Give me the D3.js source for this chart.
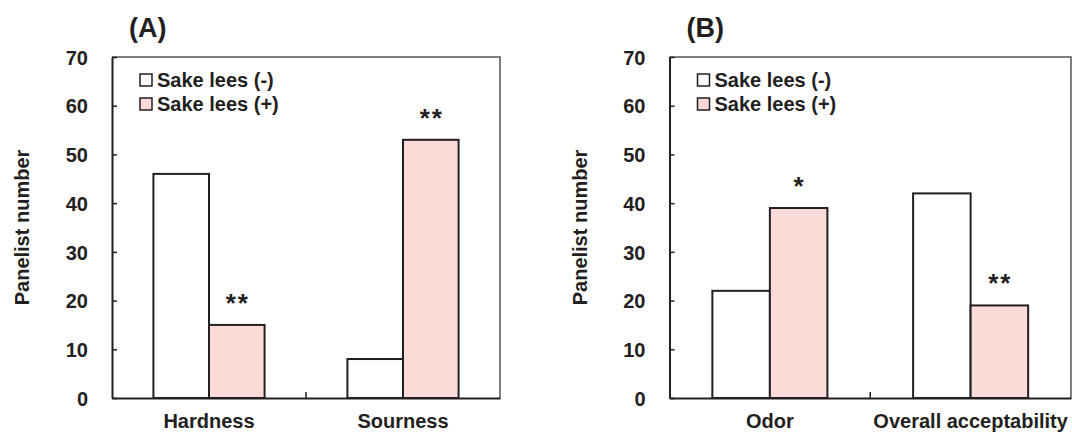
<!DOCTYPE html>
<html>
<head>
<meta charset="utf-8">
<script src="https://cdn.jsdelivr.net/npm/d3@7"></script>
<style>
  body { margin: 0; background: #fff; }
  text { font-family: "Liberation Sans", Arial, sans-serif; font-weight: bold; fill: #231f20; }
</style>
</head>
<body>
<svg id="chart" width="1072" height="435"></svg>
<script>
// Data
var seriesNames = ["Sake lees (-)", "Sake lees (+)"];
var panelLabels = ["(A)", "(B)"];
var categoriesA = ["Hardness", "Sourness"];
var withoutLeesA = [46, 8];
var withLeesA = [15, 53];
var marksA = ["**", "**"];
var categoriesB = ["Odor", "Overall acceptability"];
var withoutLeesB = [22, 42];
var withLeesB = [39, 19];
var marksB = ["*", "**"];
var yTicks = [0, 10, 20, 30, 40, 50, 60, 70];

var colors = { "Sake lees (-)": "#ffffff", "Sake lees (+)": "#fadbd8" };
var ink = "#231f20";
var fontSize = "20px";

var svg = d3.select("#chart");

var plotTop = 57, plotBottom = 398;
var panels = [
  { label: panelLabels[0], cats: categoriesA, a: withoutLeesA, b: withLeesA, marks: marksA, x0: 112, x1: 500, ylab: 29 },
  { label: panelLabels[1], cats: categoriesB, a: withoutLeesB, b: withLeesB, marks: marksB, x0: 669.5, x1: 1071, ylab: 587 }
];

var y = d3.scaleLinear().domain([0, 70]).range([plotBottom, plotTop]);

panels.forEach(function (p) {
  var g = svg.append("g");
  var x = d3.scaleBand().domain(p.cats).range([p.x0, p.x1]).padding(0);
  var xs = d3.scaleBand().domain(seriesNames).range([0, x.bandwidth()]).paddingInner(0).paddingOuter(0.745);

  // frame: top and right lighter
  g.append("path")
    .attr("d", "M" + p.x0 + "," + plotTop + "H" + p.x1 + "V" + plotBottom)
    .attr("fill", "none").attr("stroke", "#555").attr("stroke-width", 1.5);

  // bars
  var flat = [];
  p.cats.forEach(function (c, i) {
    flat.push({ cat: c, s: seriesNames[0], v: p.a[i], m: "" });
    flat.push({ cat: c, s: seriesNames[1], v: p.b[i], m: p.marks[i] });
  });
  g.selectAll("rect.bar").data(flat).enter().append("rect")
    .attr("class", "bar")
    .attr("x", function (d) { return x(d.cat) + xs(d.s); })
    .attr("y", function (d) { return y(d.v); })
    .attr("width", xs.bandwidth())
    .attr("height", function (d) { return y(0) - y(d.v); })
    .attr("fill", function (d) { return colors[d.s]; })
    .attr("stroke", ink).attr("stroke-width", 2);

  // significance stars
  g.selectAll("text.star").data(flat.filter(function (d) { return d.m; })).enter().append("text")
    .attr("class", "star")
    .attr("x", function (d) { return x(d.cat) + xs(d.s) + xs.bandwidth() / 2 + 1; })
    .attr("y", function (d) { return y(d.v) - 13; })
    .attr("text-anchor", "middle")
    .style("font-size", "26px")
    .style("letter-spacing", "2px")
    .text(function (d) { return d.m; });

  // y axis
  var yAxis = d3.axisLeft(y).tickValues(yTicks).tickSizeInner(-5).tickSizeOuter(0).tickPadding(24);
  var ya = g.append("g").attr("transform", "translate(" + p.x0 + ",0)").call(yAxis);
  ya.select(".domain").attr("stroke", ink).attr("stroke-width", 2);
  ya.selectAll(".tick line").attr("stroke", ink).attr("stroke-width", 1.5);
  ya.selectAll(".tick text").attr("fill", ink).style("font-size", fontSize).style("font-family", "Liberation Sans, Arial, sans-serif").attr("dy", "0.36em");

  // x axis
  var xa = g.append("g").attr("transform", "translate(0," + plotBottom + ")")
    .call(d3.axisBottom(x).tickSize(0).tickPadding(16));
  xa.select(".domain").attr("stroke", ink).attr("stroke-width", 2);
  xa.selectAll(".tick text").attr("fill", ink).style("font-size", fontSize).style("font-family", "Liberation Sans, Arial, sans-serif");
  // separator tick between categories
  g.append("line")
    .attr("x1", (p.x0 + p.x1) / 2).attr("x2", (p.x0 + p.x1) / 2)
    .attr("y1", plotBottom).attr("y2", plotBottom - 6)
    .attr("stroke", ink).attr("stroke-width", 1.5);

  // y label
  g.append("text")
    .attr("transform", "translate(" + p.ylab + "," + ((plotTop + plotBottom) / 2) + ") rotate(-90)")
    .attr("text-anchor", "middle")
    .style("font-size", fontSize)
    .text("Panelist number");

  // panel label
  g.append("text")
    .attr("x", p.x0 + 17).attr("y", 37)
    .style("font-size", "27px")
    .text(p.label);

  // legend
  var lg = g.append("g").attr("transform", "translate(" + (p.x0 + 28) + ",0)");
  seriesNames.forEach(function (s, i) {
    var by = 80 + i * 24;
    lg.append("rect").attr("x", 0).attr("y", by - 6).attr("width", 12).attr("height", 12)
      .attr("fill", colors[s]).attr("stroke", ink).attr("stroke-width", 1.5);
    lg.append("text").attr("x", 17).attr("y", by + 7).style("font-size", fontSize).text(s);
  });
});
</script>
</body>
</html>
